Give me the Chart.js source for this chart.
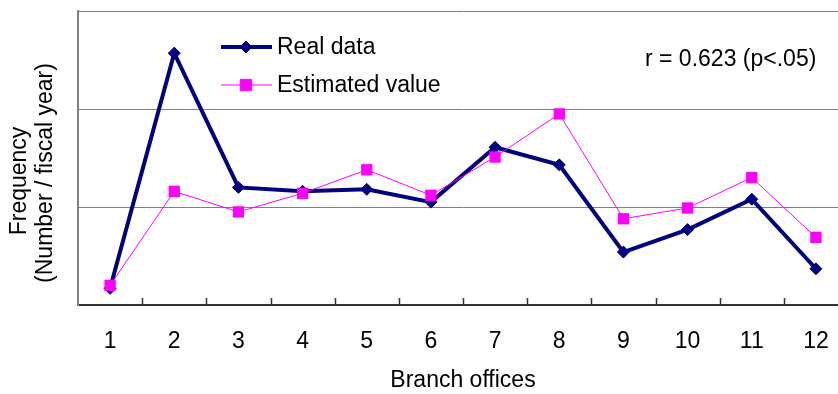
<!DOCTYPE html>
<html>
<head>
<meta charset="utf-8">
<script src="https://cdn.jsdelivr.net/npm/chart.js@4.4.1/dist/chart.umd.min.js"></script>
<style>
html,body{margin:0;padding:0;background:#fff;overflow:hidden;width:838px;height:394px;}
canvas{display:block;}
</style>
</head>
<body>
<canvas id="c" width="860" height="394"></canvas>
<script>
const categories = ['1','2','3','4','5','6','7','8','9','10','11','12'];
const realData = [0.17, 2.57, 1.20, 1.16, 1.18, 1.05, 1.61, 1.43, 0.54, 0.77, 1.08, 0.37];
const estimatedValue = [0.20, 1.16, 0.95, 1.14, 1.38, 1.12, 1.51, 1.95, 0.88, 0.99, 1.30, 0.69];
const yTicks = [0, 1, 2, 3];
const seriesNames = ['Real data', 'Estimated value'];
const xTitle = 'Branch offices';
const yTitleLines = ['Frequency', '(Number / fiscal year)'];
const annotationText = 'r = 0.623 (p<.05)';

const FONT = 'Arial, "Liberation Sans", sans-serif';
const FS = 23;

const innerTicks = {
  id: 'innerTicks',
  afterDraw(chart) {
    const ctx = chart.ctx, x = chart.scales.x, a = chart.chartArea;
    ctx.save();
    ctx.strokeStyle = '#333';
    ctx.lineWidth = 1.5;
    for (let i = 0; i < categories.length - 1; i++) {
      const px = Math.round((x.getPixelForValue(i) + x.getPixelForValue(i + 1)) / 2) + 0.5;
      ctx.beginPath();
      ctx.moveTo(px, a.bottom);
      ctx.lineTo(px, a.bottom - 7);
      ctx.stroke();
    }
    ctx.restore();
  }
};

const customText = {
  id: 'customText',
  afterDraw(chart) {
    const ctx = chart.ctx;
    ctx.save();
    ctx.fillStyle = '#000';
    ctx.font = FS + 'px ' + FONT;
    ctx.textAlign = 'center';
    ctx.textBaseline = 'middle';
    ctx.save(); ctx.translate(20, 181); ctx.rotate(-Math.PI/2); ctx.fillText(yTitleLines[0], 0, 0); ctx.restore();
    ctx.save(); ctx.translate(46, 173); ctx.rotate(-Math.PI/2); ctx.fillText(yTitleLines[1], 0, 0); ctx.restore();
    ctx.textAlign = 'left';
    ctx.fillText(annotationText, 645, 60);
    const ds = chart.data.datasets;
    const rows = [47, 85];
    ds.forEach((d, i) => {
      const y = rows[i];
      ctx.strokeStyle = d.borderColor;
      ctx.lineWidth = d.borderWidth;
      ctx.beginPath(); ctx.moveTo(221, y); ctx.lineTo(272, y); ctx.stroke();
      ctx.fillStyle = d.pointBackgroundColor;
      ctx.strokeStyle = d.pointBorderColor;
      ctx.lineWidth = 1;
      ctx.beginPath();
      if (d.pointStyle === 'rectRot') {
        const r = d.pointRadius;
        ctx.moveTo(246 - r, y); ctx.lineTo(246, y - r); ctx.lineTo(246 + r, y); ctx.lineTo(246, y + r); ctx.closePath();
      } else {
        const s = d.pointRadius * Math.SQRT1_2;
        ctx.rect(246 - s, y - s, 2 * s, 2 * s);
      }
      ctx.fill(); ctx.stroke();
      ctx.fillStyle = '#000';
      ctx.fillText(d.label, 277, y + 1);
    });
    ctx.restore();
  }
};

new Chart(document.getElementById('c'), {
  type: 'line',
  data: {
    labels: categories,
    datasets: [
      {
        label: seriesNames[0],
        data: realData,
        borderColor: '#000080',
        backgroundColor: '#000080',
        borderWidth: 4,
        pointStyle: 'rectRot',
        pointRadius: 6,
        pointBackgroundColor: '#000080',
        pointBorderColor: '#000080',
        pointBorderWidth: 1,
        tension: 0,
        order: 1
      },
      {
        label: seriesNames[1],
        data: estimatedValue,
        borderColor: '#FF00FF',
        backgroundColor: '#FF00FF',
        borderWidth: 1,
        pointStyle: 'rect',
        pointRadius: 8,
        pointBackgroundColor: '#FF00FF',
        pointBorderColor: '#FF00FF',
        pointBorderWidth: 0,
        tension: 0,
        order: 0
      }
    ]
  },
  options: {
    responsive: false,
    animation: false,
    devicePixelRatio: 1,
    clip: false,
    layout: { padding: { left: 78, right: 12, top: 11, bottom: 0 } },
    plugins: { legend: { display: false }, tooltip: { enabled: false } },
    scales: {
      x: {
        type: 'category',
        offset: true,
        grid: { display: false, drawTicks: false },
        border: { display: true, color: '#333', width: 2 },
        ticks: { color: '#000', font: { family: FONT, size: FS }, padding: 23, maxRotation: 0, autoSkip: false },
        title: { display: true, text: xTitle, color: '#000', font: { family: FONT, size: FS }, padding: { top: 0, bottom: 0 } },
        afterFit(s) { s.height = 89; }
      },
      y: {
        min: yTicks[0],
        max: yTicks[yTicks.length - 1],
        afterBuildTicks(s) { s.ticks = yTicks.map(v => ({ value: v })); },
        grid: { color: '#808080', lineWidth: 1, drawTicks: false },
        border: { display: true, color: '#808080', width: 2 },
        ticks: { display: false },
        afterFit(s) { s.width = 0; }
      }
    }
  },
  plugins: [innerTicks, customText]
});
</script>
</body>
</html>
